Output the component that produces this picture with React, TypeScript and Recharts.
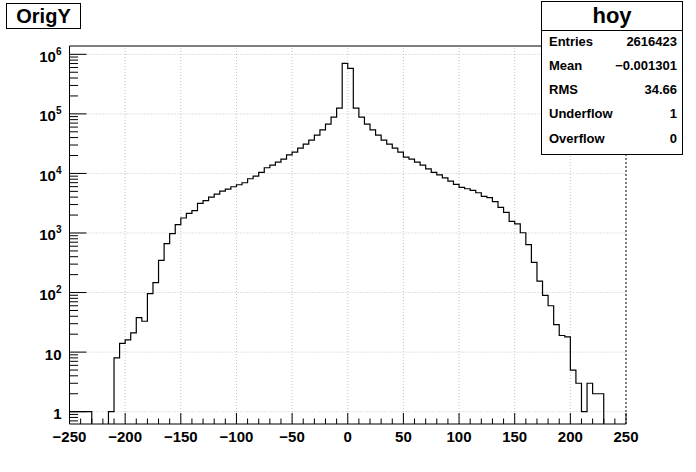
import { LineChart, Line, XAxis, YAxis, ReferenceLine } from 'recharts';

// histogram definition: 100 bins of width 5 between -250 and 250
const X_MIN = -250;
const X_MAX = 250;
const BIN_WIDTH = 5;

// bin contents, left edge of each bin noted at the end of the row
const COUNTS = [
  1, 1, 1, 1, 0, 0, 0, 1, 8, 14, // -250 .. -205
  16, 21, 38, 33, 96, 147, 348, 663, 975, 1380, // -200 .. -155
  1784, 2137, 2366, 3140, 3483, 4013, 4506, 5060, 5460, 5980, // -150 .. -105
  6460, 6980, 8140, 9000, 10400, 12450, 13800, 15490, 17380, 20560, // -100 .. -55
  22800, 26600, 31000, 36200, 43900, 54000, 67100, 87900, 124500, 706000, // -50 .. -5
  582000, 124500, 87900, 67100, 54000, 43900, 36200, 31000, 26600, 22800, // 0 .. 45
  18800, 17380, 15490, 13800, 11970, 10450, 9450, 8450, 7400, 6550, // 50 .. 95
  5830, 5530, 5180, 4740, 4120, 3910, 3350, 2690, 2220, 1570, // 100 .. 145
  1420, 1010, 637, 322, 155, 90, 60, 29, 19, 18, // 150 .. 195
  5, 3, 1, 3, 2, 2, 0, 0, 0, 0, // 200 .. 245
];

const X_TICKS = [
  -250, -240, -230, -220, -210, -200, -190, -180, -170, -160,
  -150, -140, -130, -120, -110, -100, -90, -80, -70, -60,
  -50, -40, -30, -20, -10, 0, 10, 20, 30, 40,
  50, 60, 70, 80, 90, 100, 110, 120, 130, 140,
  150, 160, 170, 180, 190, 200, 210, 220, 230, 240, 250,
];
const X_LABELS = [-250, -200, -150, -100, -50, 0, 50, 100, 150, 200, 250];
const X_GRID = [-200, -150, -100, -50, 0, 50, 100, 150, 200];

const Y_MAJOR = [1, 10, 100, 1000, 10000, 100000, 1000000];
const Y_MINOR_MULT = [2, 3, 4, 5, 6, 7, 8, 9];
const Y_LOW_MINOR = [0.7, 0.8, 0.9];
const Y_MIN = 0.621;
const Y_MAX = 1.379e6;

const STATS = [
  { label: 'Entries', value: '2616423' },
  { label: 'Mean', value: '\u22120.001301' },
  { label: 'RMS', value: '34.66' },
  { label: 'Underflow', value: '1' },
  { label: 'Overflow', value: '0' },
];

const FONT = '"Liberation Sans", Arial, Helvetica, sans-serif';

// empty bins sit below the log axis and get clipped, like ROOT drops them to the frame
const FLOOR = 0.01;
const table = COUNTS.map((c, i) => ({ x: X_MIN + i * BIN_WIDTH, v: c > 0 ? c : FLOOR }));
table.push({ x: X_MAX, v: table[table.length - 1].v });

const yTicks = [
  ...Y_LOW_MINOR,
  ...Y_MAJOR.slice(0, -1).flatMap(d => [d, ...Y_MINOR_MULT.map(m => m * d)]),
  Y_MAJOR[Y_MAJOR.length - 1],
];

const fmtX = (v: number) => (v < 0 ? '\u2212' + Math.abs(v) : String(v));

function XTick(props: any) {
  const { x, y, payload } = props;
  const major = X_LABELS.includes(payload.value);
  return (
    <g>
      <line x1={x} x2={x} y1={y} y2={y - (major ? 11 : 5.5)} stroke="#000" />
      {major && (
        <text x={x} y={y + 18} textAnchor="middle" fontSize={15} fontWeight="bold" fontFamily={FONT} fill="#000">
          {fmtX(payload.value)}
        </text>
      )}
    </g>
  );
}

function YTick(props: any) {
  const { x, y, payload } = props;
  const v = payload.value;
  const major = Y_MAJOR.includes(v);
  const exp = Math.round(Math.log10(v));
  return (
    <g>
      <line x1={x} x2={x + (major ? 17 : 8.5)} y1={y} y2={y} stroke="#000" />
      {major && (
        <text x={x - 8} y={y + 2} dy="0.36em" textAnchor="end" fontSize={15} fontWeight="bold" fontFamily={FONT} fill="#000">
          {exp < 2 ? String(v) : '10'}
          {exp >= 2 && <tspan dy={-7} fontSize={10}>{exp}</tspan>}
        </text>
      )}
    </g>
  );
}

export default function App() {
  return (
    <div style={{ position: 'absolute', left: 0, top: 0, width: 696, height: 472, background: '#fff' }}>
      <LineChart width={696} height={472} data={table} margin={{ top: 46, right: 70, left: 0, bottom: 0 }}>
        <XAxis
          dataKey="x"
          type="number"
          domain={[X_MIN, X_MAX]}
          allowDataOverflow
          ticks={X_TICKS}
          interval={0}
          height={48}
          tickSize={0}
          tickMargin={0}
          tickLine={false}
          axisLine={{ stroke: '#000' }}
          tick={<XTick />}
        />
        <YAxis
          type="number"
          scale="log"
          domain={[Y_MIN, Y_MAX]}
          allowDataOverflow
          ticks={yTicks}
          interval={0}
          width={69.5}
          tickSize={0}
          tickMargin={0}
          tickLine={false}
          axisLine={{ stroke: '#000' }}
          tick={<YTick />}
        />
        {X_GRID.map(v => (
          <ReferenceLine key={'gx' + v} x={v} stroke="#c4c4c4" strokeDasharray="1 2" />
        ))}
        {Y_MAJOR.map(v => (
          <ReferenceLine key={'gy' + v} y={v} stroke="#c4c4c4" strokeDasharray="1 2" />
        ))}
        <ReferenceLine y={Y_MAX} stroke="#000" />
        <ReferenceLine x={X_MAX} stroke="#000" strokeDasharray="2 2" />
        <Line
          type="stepAfter"
          dataKey="v"
          stroke="#000"
          strokeWidth={1.2}
          dot={false}
          activeDot={false}
          isAnimationActive={false}
        />
      </LineChart>

      {/* title box */}
      <div
        style={{
          position: 'absolute', left: 6, top: 3, width: 75, height: 26, boxSizing: 'border-box',
          border: '1px solid #000', background: '#fff', fontFamily: FONT, fontWeight: 'bold',
          fontSize: 20, lineHeight: '24px', textAlign: 'center',
        }}
      >
        OrigY
      </div>

      {/* stats box */}
      <div
        style={{
          position: 'absolute', left: 541, top: 1, width: 142, height: 154, boxSizing: 'border-box',
          border: '1px solid #000', background: '#fff', fontFamily: FONT, fontWeight: 'bold',
        }}
      >
        <div style={{ height: 28, borderBottom: '1px solid #000', fontSize: 22, lineHeight: '27px', textAlign: 'center' }}>
          hoy
        </div>
        {STATS.map((s, i) => (
          <div
            key={s.label}
            style={{
              position: 'absolute', left: 7, right: 5, top: 29.7 + i * 24.2, height: 20, lineHeight: '20px',
              display: 'flex', justifyContent: 'space-between', fontSize: 13,
            }}
          >
            <span>{s.label}</span>
            <span>{s.value}</span>
          </div>
        ))}
      </div>
    </div>
  );
}
